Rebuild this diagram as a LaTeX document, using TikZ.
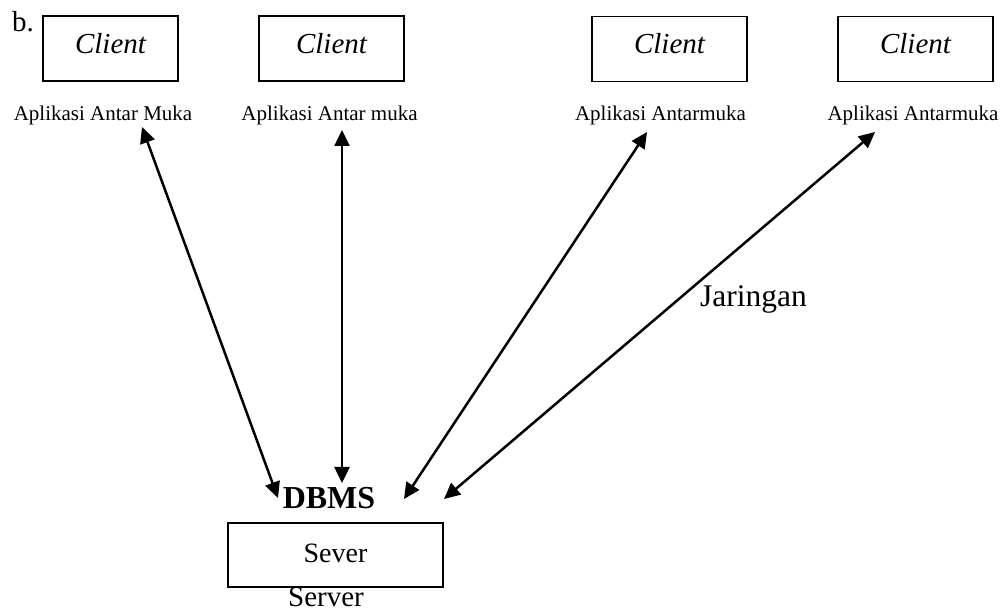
\documentclass[tikz,border=0pt]{standalone}
\usepackage{fontspec}
\setmainfont{Liberation Serif}
\usetikzlibrary{arrows.meta}
\tikzset{
	clientbox/.style={draw, line width=1.8pt, minimum height=65pt, text height=20pt, text depth=10pt, font=\fontsize{29}{34}\selectfont\itshape},
	serverbox/.style={draw, line width=1.8pt, minimum height=64pt, text height=20pt, text depth=6pt, font=\fontsize{28}{34}\selectfont},
	apl/.style={anchor=base, inner sep=0pt, font=\fontsize{21}{25}\selectfont},
	link/.style={line width=2.5pt, {Triangle[length=16pt,width=15pt]}-{Triangle[length=16pt,width=15pt]}}
}
\begin{document}
\begin{tikzpicture}[x=1pt, y=-1pt]
		\useasboundingbox (0,0) rectangle (1005,612);
		\node[anchor=base west, inner sep=0pt, font=\fontsize{29}{34}\selectfont] (b) at (12,32) {b.};
		\node[clientbox, minimum width=135pt] (c1) at (110.5,48.5) {Client};
		\node[clientbox, minimum width=145pt] (c2) at (331.5,48.5) {Client};
		\node[clientbox, minimum width=155pt] (c3) at (669.5,49) {Client};
		\node[clientbox, minimum width=155pt] (c4) at (915.5,49) {Client};
		\node[apl] (l1) at (103,121) {Aplikasi Antar Muka};
		\node[apl] (l2) at (329.5,121) {Aplikasi Antar muka};
		\node[apl] (l3) at (660.5,121) {Aplikasi Antarmuka};
		\node[apl] (l4) at (913,121) {Aplikasi Antarmuka};
		\node[anchor=base, inner sep=0pt, font=\fontsize{32}{38}\selectfont\bfseries] (dbms) at (329,508) {DBMS};
		\node[serverbox, minimum width=215pt] (sv) at (335.5,555) {Sever};
		\node[anchor=base, inner sep=0pt, font=\fontsize{29}{34}\selectfont] (srv) at (326,606) {Server};
		\node[anchor=base west, inner sep=0pt, font=\fontsize{31.5}{38}\selectfont] (net) at (700,307) {Jaringan};
		
		\coordinate (t1) at (142,127);
		\coordinate (t2) at (342,130);
		\coordinate (t3) at (647,132);
		\coordinate (t4) at (875,132);
		\coordinate (d1) at (278,498);
		\coordinate (d2) at (342,483);
		\coordinate (d3) at (404,499);
		\coordinate (d4) at (444,499);
		
		\draw[link] (t1) -- (d1);
		\draw[link] (t2) -- (d2);
		\draw[link] (t3) -- (d3);
		\draw[link] (t4) -- (d4);
		\end{tikzpicture}
\end{document}
